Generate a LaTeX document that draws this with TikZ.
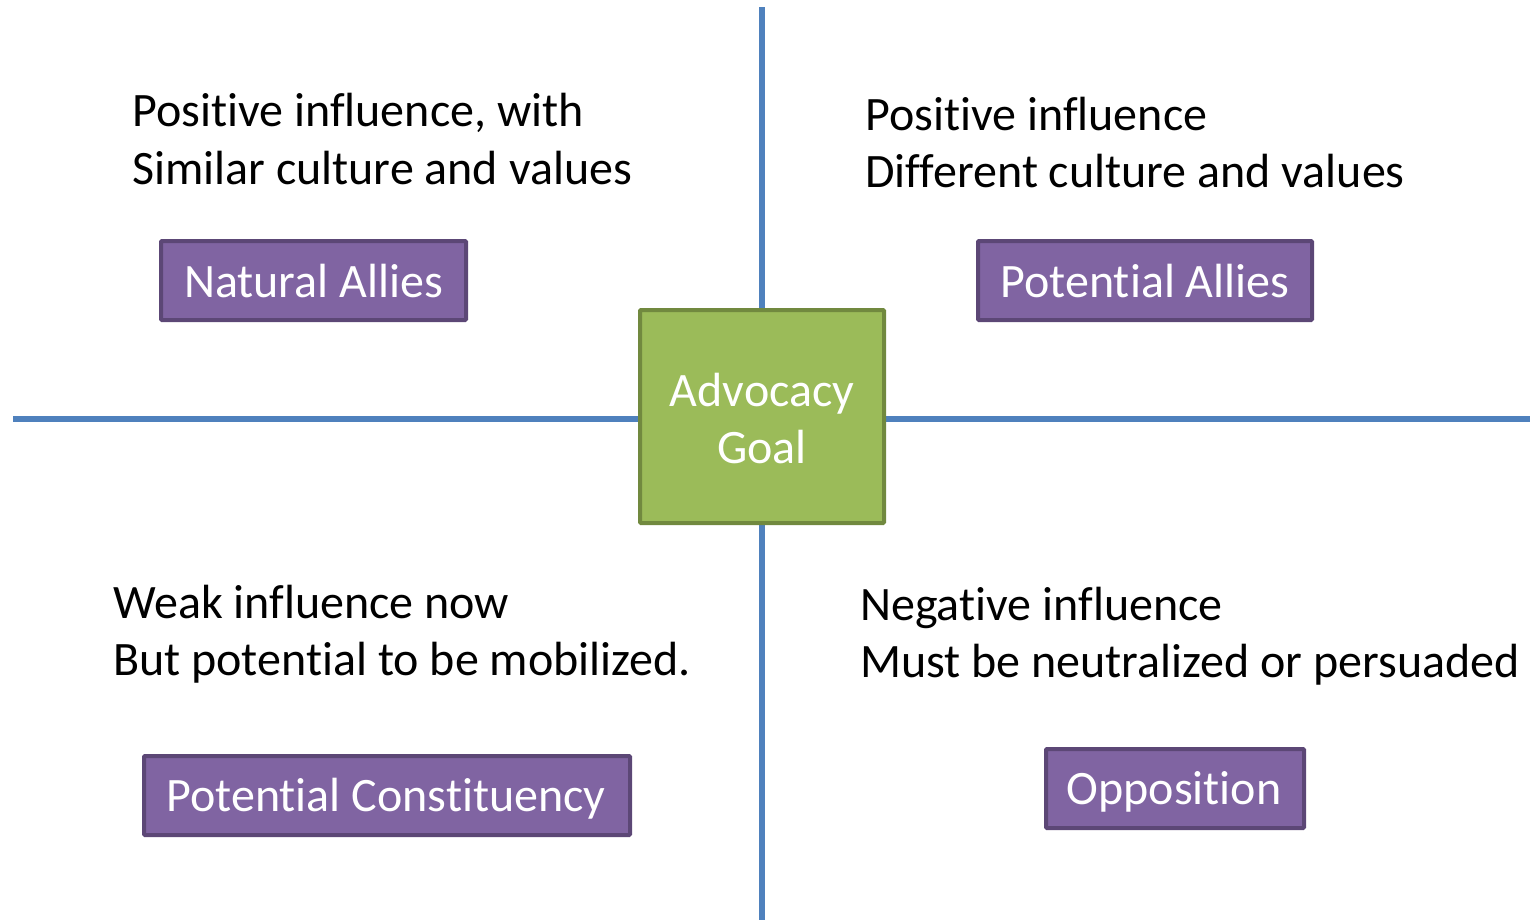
\documentclass[tikz,border=0pt]{standalone}
\usepackage{fontspec}
\setmainfont{Carlito}[Ligatures=NoCommon]
\definecolor{axisblue}{HTML}{4F81BD}
\definecolor{purplefill}{HTML}{8064A2}
\definecolor{purpleedge}{HTML}{5C4776}
\definecolor{greenfill}{HTML}{9BBB59}
\definecolor{greenedge}{HTML}{71893F}
\begin{document}
\begin{tikzpicture}[x=1pt,y=-1pt,
  axis/.style={draw=axisblue,line width=5.5pt},
  groupbox/.style={draw=purpleedge,fill=purplefill,line width=4pt,rounded corners=1pt},
  goalbox/.style={draw=greenedge,fill=greenfill,line width=4pt,rounded corners=1pt},
  boxlabel/.style={text=white,font=\fontsize{48}{57}\selectfont,inner sep=0pt,align=center},
  note/.style={anchor=base west,inner sep=0pt,font=\fontsize{48}{58}\selectfont}]
\useasboundingbox (0,0) rectangle (1530,922);
% quadrant axes
\coordinate (top) at (762,7);
\coordinate (bottom) at (762,920);
\coordinate (left) at (13,419);
\coordinate (right) at (1530,419);
\draw[axis] (top) -- (bottom);
\draw[axis] (left) -- (right);
% central goal
\draw[goalbox] (640,310) rectangle (884,523);
\node[boxlabel] (goal) at (762,418) {Advocacy\\Goal};
% stakeholder groups
\draw[groupbox] (161,241) rectangle (466,320);
\node[boxlabel] (natural) at (313.5,281) {Natural Allies};
\draw[groupbox] (978,241) rectangle (1312,320);
\node[boxlabel] (potential) at (1145,281) {Potential Allies};
\draw[groupbox] (144,756) rectangle (630,835);
\node[boxlabel] (constituency) at (386,799) {Potential Constituency};
\draw[groupbox] (1046,749) rectangle (1304,828);
\node[boxlabel] (opposition) at (1174,792) {Opposition};
% quadrant descriptions
\node[note] (nw1) at (132,126) {Positive influence, with};
\node[note] (nw2) at (132,184) {Similar culture and values};
\node[note] (ne1) at (865,130) {Positive influence};
\node[note] (ne2) at (865,187) {Different culture and values};
\node[note] (sw1) at (113,618) {Weak influence now};
\node[note] (sw2) at (113,675) {But potential to be mobilized.};
\node[note] (se1) at (860,620) {Negative influence};
\node[note] (se2) at (860,677) {Must be neutralized or persuaded};
\end{tikzpicture}
\end{document}
